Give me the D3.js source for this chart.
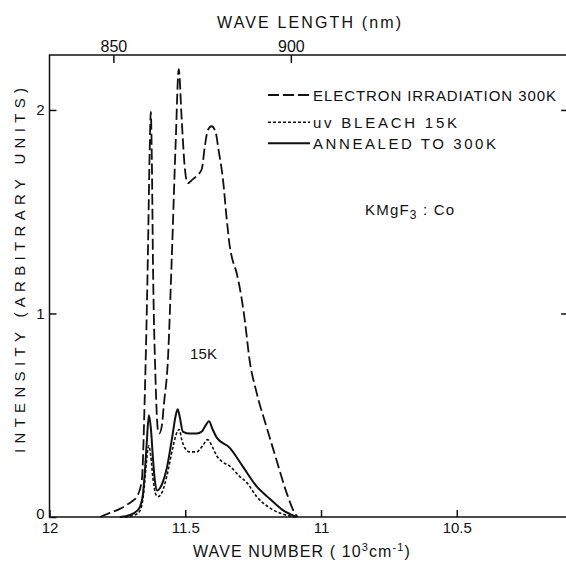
<!DOCTYPE html>
<html>
<head>
<meta charset="utf-8">
<script src="https://cdn.jsdelivr.net/npm/d3@7"></script>
<style>
  html, body { margin: 0; padding: 0; background: #fff; }
  svg { display: block; }
  text { font-family: "Liberation Sans", Arial, sans-serif; fill: #111; }
</style>
</head>
<body>
<svg id="chart" width="566" height="563"></svg>
<script>
// ---------- data (wave number in 10^3 cm^-1, intensity in arbitrary units) ----------
const irradWn = [11.814, 11.778, 11.741, 11.715, 11.693, 11.678, 11.660, 11.649, 11.638, 11.631, 11.627, 11.623, 11.619, 11.610, 11.601, 11.596, 11.586, 11.579, 11.564, 11.550, 11.535, 11.524, 11.513, 11.502, 11.491, 11.472, 11.454, 11.439, 11.428, 11.417, 11.403, 11.388, 11.377, 11.362, 11.347, 11.336, 11.329, 11.311, 11.292, 11.281, 11.263, 11.237, 11.200, 11.164, 11.127, 11.097, 11.086];
const irradI  = [0.00, 0.02, 0.04, 0.06, 0.08, 0.10, 0.18, 0.60, 1.26, 1.80, 1.99, 1.75, 1.26, 0.70, 0.43, 0.41, 0.45, 0.55, 0.77, 1.26, 1.85, 2.20, 1.95, 1.72, 1.64, 1.66, 1.68, 1.71, 1.82, 1.90, 1.92, 1.89, 1.80, 1.67, 1.46, 1.33, 1.28, 1.20, 1.07, 0.97, 0.77, 0.61, 0.44, 0.28, 0.12, 0.02, 0.00];

const bleachWn = [11.722, 11.686, 11.667, 11.653, 11.645, 11.638, 11.634, 11.627, 11.619, 11.608, 11.600, 11.586, 11.568, 11.546, 11.535, 11.522, 11.513, 11.502, 11.483, 11.458, 11.436, 11.418, 11.406, 11.384, 11.362, 11.336, 11.300, 11.274, 11.237, 11.189, 11.142, 11.097];
const bleachI  = [0.00, 0.01, 0.03, 0.12, 0.24, 0.33, 0.35, 0.30, 0.19, 0.11, 0.10, 0.12, 0.20, 0.34, 0.40, 0.43, 0.38, 0.34, 0.32, 0.32, 0.35, 0.38, 0.36, 0.30, 0.27, 0.25, 0.20, 0.17, 0.10, 0.045, 0.015, 0.00];

const annealWn = [11.741, 11.704, 11.678, 11.667, 11.656, 11.649, 11.642, 11.634, 11.627, 11.619, 11.612, 11.603, 11.594, 11.583, 11.568, 11.546, 11.535, 11.528, 11.520, 11.509, 11.483, 11.458, 11.439, 11.425, 11.413, 11.399, 11.384, 11.336, 11.289, 11.237, 11.189, 11.142, 11.090];
const annealI  = [0.00, 0.01, 0.03, 0.05, 0.11, 0.22, 0.36, 0.50, 0.44, 0.29, 0.18, 0.13, 0.14, 0.17, 0.24, 0.41, 0.50, 0.53, 0.49, 0.42, 0.41, 0.41, 0.42, 0.45, 0.47, 0.43, 0.39, 0.34, 0.25, 0.15, 0.09, 0.035, 0.00];

const seriesNames = ["ELECTRON IRRADIATION 300K", "uv BLEACH 15K", "ANNEALED TO 300K"];
const waveNumberTicks = [12, 11.5, 11, 10.5];
const waveLengthTicks = [850, 900];
const intensityTicks = [0, 1, 2];

// ---------- layout ----------
const svg = d3.select("#chart");
const pL = 49.5, pR = 568.1, pT = 55, pB = 517;
const x = d3.scaleLinear().domain([12, 10.09]).range([pL, pR]);
const y = d3.scaleLinear().domain([0, 2.27]).range([pB, pT]);
const ink = "#111";

// frame
svg.append("rect")
  .attr("x", pL).attr("y", pT)
  .attr("width", pR - pL).attr("height", pB - pT)
  .attr("fill", "none").attr("stroke", ink).attr("stroke-width", 1.5);

function styleAxis(g, fs) {
  g.select(".domain").remove();
  g.selectAll(".tick line").attr("stroke", ink).attr("stroke-width", 1.5);
  g.selectAll(".tick text").attr("font-size", fs).attr("fill", ink)
    .attr("font-family", "Liberation Sans, Arial, sans-serif");
}

// bottom axis (wave number)
svg.append("g").attr("transform", `translate(0,${pB})`)
  .call(d3.axisBottom(x).tickValues(waveNumberTicks)
    .tickFormat(d => d === 12 ? "12" : d === 11 ? "11" : d3.format(".1f")(d))
    .tickSizeInner(-7).tickSizeOuter(0).tickPadding(5))
  .call(g => styleAxis(g, 15));

// top axis (wave length, nm)
svg.append("g").attr("transform", `translate(0,${pT})`)
  .call(d3.axisTop(x).tickValues(waveLengthTicks.map(nm => 1e4 / nm))
    .tickFormat(d => d3.format(".0f")(1e4 / d))
    .tickSizeInner(-8).tickSizeOuter(0).tickPadding(3))
  .call(g => styleAxis(g, 16));

// left axis
svg.append("g").attr("transform", `translate(${pL},0)`)
  .call(d3.axisLeft(y).tickValues(intensityTicks).tickFormat(d3.format("d"))
    .tickSizeInner(-7).tickSizeOuter(0).tickPadding(5))
  .call(g => styleAxis(g, 15))
  .call(g => g.selectAll(".tick text").filter(d => d === 0).attr("dy", "0.1em"));

// right axis (ticks only)
svg.append("g").attr("transform", `translate(${pR},0)`)
  .call(d3.axisRight(y).tickValues(intensityTicks.filter(d => d > 0)).tickFormat("")
    .tickSizeInner(-7).tickSizeOuter(0))
  .call(g => styleAxis(g, 15));

// axis titles
svg.append("text").attr("x", 309).attr("y", 28).attr("text-anchor", "middle")
  .attr("font-size", 16).attr("textLength", 184).attr("lengthAdjust", "spacing")
  .text("WAVE LENGTH (nm)");

const xt = svg.append("text").attr("x", 193).attr("y", 557)
  .attr("font-size", 16).attr("letter-spacing", 1.1);
xt.append("tspan").text("WAVE  NUMBER ( 10");
xt.append("tspan").attr("font-size", 11).attr("dy", -6).text("3");
xt.append("tspan").attr("dy", 6).text("cm");
xt.append("tspan").attr("font-size", 11).attr("dy", -6).text("-1");
xt.append("tspan").attr("dy", 6).text(")");

svg.append("text").attr("transform", "translate(25,270.5) rotate(-90)")
  .attr("text-anchor", "middle").attr("font-size", 15)
  .attr("textLength", 365).attr("lengthAdjust", "spacing")
  .text("INTENSITY (ARBITRARY UNITS)");

// curves
const styles = [
  { wn: irradWn, I: irradI, dash: "11,4", w: 1.8 },
  { wn: bleachWn, I: bleachI, dash: "3,2", w: 1.6 },
  { wn: annealWn, I: annealI, dash: null, w: 2 }
];
const line = d3.line().x(d => x(d[0])).y(d => y(d[1])).curve(d3.curveMonotoneX);
styles.forEach(s => {
  const pts = s.wn.map((w, i) => [w, s.I[i]]);
  svg.append("path").datum(pts)
    .attr("d", line)
    .attr("fill", "none").attr("stroke", ink).attr("stroke-width", s.w)
    .attr("stroke-linejoin", "round")
    .attr("stroke-dasharray", s.dash);
});

// legend
const legRows = [95, 122.3, 143.3];
const legLens = [243, 144, 183];
styles.forEach((s, i) => {
  svg.append("line").attr("x1", 268).attr("x2", 310)
    .attr("y1", legRows[i]).attr("y2", legRows[i])
    .attr("stroke", ink).attr("stroke-width", s.w).attr("stroke-dasharray", s.dash);
  svg.append("text").attr("x", 313).attr("y", legRows[i] + 5.5)
    .attr("font-size", 15).attr("textLength", legLens[i]).attr("lengthAdjust", "spacing")
    .text(seriesNames[i]);
});

// annotations
const kt = svg.append("text").attr("x", 365).attr("y", 215).attr("font-size", 15).attr("letter-spacing", 1.2);
kt.append("tspan").text("KMgF");
kt.append("tspan").attr("font-size", 12).attr("dy", 4).text("3");
kt.append("tspan").attr("dy", -4).text(" : Co");

svg.append("text").attr("x", 190).attr("y", 359).attr("font-size", 15)
  .attr("textLength", 27).attr("lengthAdjust", "spacing").text("15K");
</script>
</body>
</html>
